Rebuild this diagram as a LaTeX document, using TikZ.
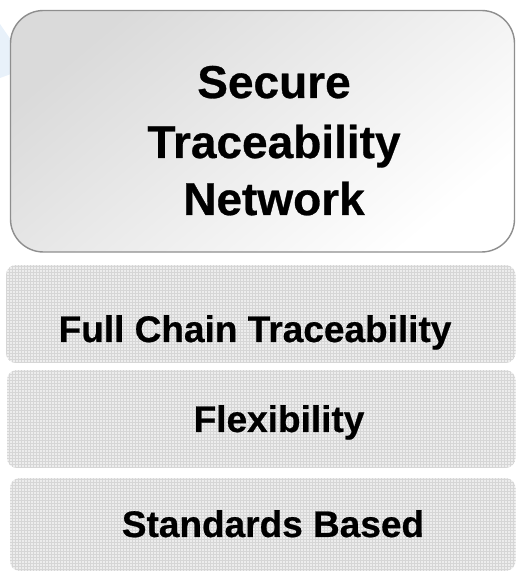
\documentclass[tikz,border=0pt]{standalone}
\usepackage{fontspec}
\setmainfont{Liberation Sans}
\newfontfamily\heavyfont{Liberation Sans Bold}[FakeBold=0.6]
\definecolor{boxborder}{HTML}{8E8E8E}
\definecolor{boxtop}{HTML}{DADADA}
\definecolor{stripbase}{HTML}{EDEDED}
\definecolor{gridline}{HTML}{D6D6D6}
\definecolor{glowblue}{HTML}{E8F1FA}
\begin{document}
\begin{tikzpicture}[x=1pt,y=1pt,
  titletext/.style={font=\heavyfont\fontsize{46}{59}\selectfont, anchor=base, inner sep=0pt},
  striptext/.style={font=\heavyfont\fontsize{37}{44}\selectfont, anchor=base, inner sep=0pt},
  stripshape/.style={rounded corners=10pt},
  gridstyle/.style={draw=gridline, line width=0.6pt},
]
\useasboundingbox (0,0) rectangle (516,572);
% faint blue glow at left
\fill[glowblue] (0,548) -- (11,532) -- (11,498) -- (0,494) -- cycle;
% top box
\shade[rounded corners=33pt, top color=boxtop, bottom color=white, shading angle=40,
  draw=boxborder, line width=1.4pt] (10.5,320) rectangle (514.5,561.5);
% strips
\foreach \ya/\yb/\xa in {209/307/6, 104/202/7, 1/94/10}{
  \begin{scope}
    \clip[stripshape] (\xa,\ya) rectangle (515.5,\yb);
    \fill[stripbase] (\xa,\ya) rectangle (515.5,\yb);
    \draw[gridstyle, step=3pt] (\xa,\ya) grid (516,\yb);
  \end{scope}
}
% texts
\node[titletext] (t1) at (274,474) {Secure};
\node[titletext] (t2) at (274,414) {Traceability};
\node[titletext] (t3) at (274,357) {Network};
\node[striptext] (f1) at (255,230) {Full Chain Traceability};
\node[striptext] (f2) at (279,140) {Flexibility};
\node[striptext] (f3) at (273,35) {Standards Based};
\end{tikzpicture}
\end{document}
